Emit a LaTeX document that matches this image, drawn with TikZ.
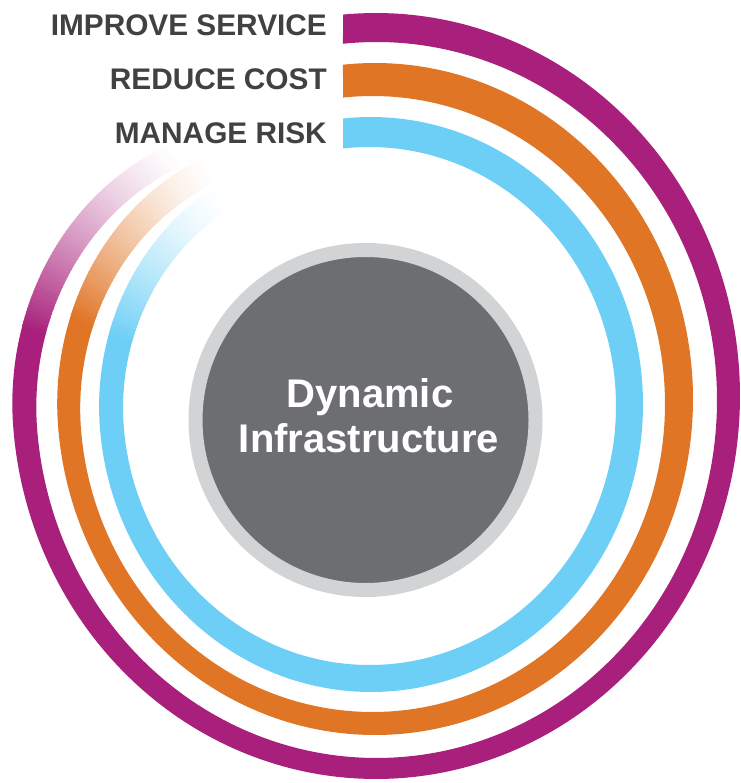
\documentclass[tikz,border=0pt]{standalone}
\usepackage{fontspec}
\setmainfont{Liberation Sans}
\definecolor{ringP}{HTML}{A8207B}
\definecolor{ringO}{HTML}{E07526}
\definecolor{ringB}{HTML}{6DCFF6}
\definecolor{coreD}{HTML}{6D6E71}
\definecolor{coreL}{HTML}{D1D3D4}
\definecolor{labelC}{HTML}{414042}
\tikzset{
  goal/.style={anchor=base east, inner sep=0pt, text=labelC, font=\fontsize{29.8}{30}\selectfont\bfseries},
  coretext/.style={anchor=base, inner sep=0pt, text=white, font=\fontsize{40}{45}\selectfont\bfseries},
  core/.style={circle, fill=coreD, draw=coreL, line width=14pt, minimum size=340pt, inner sep=0pt}
}
% smooth shrink factor of a ring along its tail
\newcommand\shr{(1-\kk*max(0,-175-(\x))*max(0,-175-(\x)))}
% #1 colour, #2 #3 outer centre, #4 #5 outer semi-axes, #6 #7 inner centre, #8 #9 inner semi-axes
\newcommand\myring[9]{%
  \fill[#1] plot[domain=\tso:\tend, samples=300]
      ({#2+#4*\shr*cos(\x)},{#3-#5*\shr*sin(\x)})
    -- plot[domain=\tend:\tsi, samples=300]
      ({#6+#8*\shr*cos(\x)},{#7-#9*\shr*sin(\x)})
    -- cycle;
  \foreach \k in {0,...,59}{%
    \pgfmathsetmacro\ta{\tend-\k*(\tend-\tfade)/60+0.35}%
    \pgfmathsetmacro\tb{\tend-(\k+1)*(\tend-\tfade)/60}%
    \pgfmathtruncatemacro\pp{100*(1-(\k+0.5)/60)^1.5}%
    \fill[#1!\pp!white] plot[domain=\ta:\tb, samples=4]
        ({#2+#4*\shr*cos(\x)},{#3-#5*\shr*sin(\x)})
      -- plot[domain=\tb:\ta, samples=4]
        ({#6+#8*\shr*cos(\x)},{#7-#9*\shr*sin(\x)})
      -- cycle;
  }%
}
\begin{document}
\begin{tikzpicture}[x=1pt,y=-1pt]
\useasboundingbox (0,0) rectangle (740,783);

% purple ring
\def\kk{0.00004}\def\tso{95.2}\def\tsi{95.65}\def\tend{-191}\def\tfade{-231}
\myring{ringP}{376}{396}{364}{383}{376.5}{400}{340.5}{358}
% orange ring
\def\kk{0.000038}\def\tso{95.78}\def\tsi{95.79}\def\tend{-195}\def\tfade{-235}
\myring{ringO}{375}{399}{318}{336}{372.5}{404}{292.5}{308}
% blue ring
\def\kk{0.000017}\def\tso{95.9}\def\tsi{96.17}\def\tend{-194.6}\def\tfade{-235}
\myring{ringB}{371}{404.5}{272}{287.5}{369.5}{406}{246.5}{259}

% core
\node[core] (core) at (365.5,420) {};
\node[coretext] (dyn) at (370,407) {Dynamic};
\node[coretext] (infra) at (369,452) {Infrastructure};

% labels
\node[goal] (service) at (327,36) {IMPROVE SERVICE};
\node[goal] (cost) at (327,90) {REDUCE COST};
\node[goal] (risk) at (327,144) {MANAGE RISK};
\end{tikzpicture}
\end{document}
